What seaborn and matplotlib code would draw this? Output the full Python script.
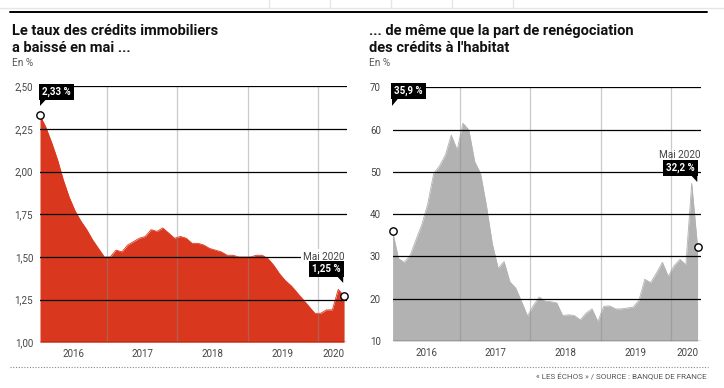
import numpy as np
import pandas as pd
import matplotlib
matplotlib.use("Agg")
import matplotlib.pyplot as plt
from matplotlib.patches import Polygon
from matplotlib.lines import Line2D
import seaborn as sns

# ---------------- data ----------------
months = pd.date_range("2016-01-01", "2020-05-01", freq="MS")
taux = [2.33, 2.26, 2.17, 2.07, 1.95, 1.85, 1.77, 1.71, 1.66, 1.60, 1.55, 1.50,
        1.50, 1.54, 1.53, 1.57, 1.59, 1.61, 1.62, 1.66, 1.65, 1.67, 1.64, 1.61,
        1.62, 1.61, 1.58, 1.58, 1.57, 1.55, 1.54, 1.53, 1.51, 1.51, 1.50, 1.50,
        1.50, 1.51, 1.51, 1.49, 1.45, 1.40, 1.36, 1.33, 1.29, 1.25, 1.21, 1.17,
        1.17, 1.19, 1.19, 1.31, 1.27]
reneg = [35.9, 29.5, 28.6, 30.3, 34.0, 37.6, 42.5, 49.6, 51.4, 54.0, 58.7, 55.2,
         61.5, 59.9, 52.4, 49.6, 42.0, 33.0, 27.2, 28.8, 24.0, 22.5, 19.3, 15.9,
         18.4, 20.4, 19.4, 19.3, 19.0, 16.0, 16.2, 16.0, 15.0, 16.6, 17.6, 14.6,
         18.2, 18.3, 17.6, 17.6, 17.8, 18.0, 19.6, 24.6, 23.8, 26.1, 28.6, 25.3,
         27.8, 29.3, 28.0, 47.3, 32.2]
years = ["2016", "2017", "2018", "2019", "2020"]
left_yticks = [1.00, 1.25, 1.50, 1.75, 2.00, 2.25, 2.50]
right_yticks = [10, 20, 30, 40, 50, 60, 70]
label_first_left, label_last_left = "2,33 %", "1,25 %"
label_first_right, label_last_right = "35,9 %", "32,2 %"

t = np.arange(len(months)) + 0.5          # month index, centred in month
df = pd.DataFrame({"t": t, "taux": taux, "reneg": reneg})
year_starts = [12, 24, 36, 48]
year_label_pos = [6.25, 18, 30, 42, 50.75]

# ---------------- style ----------------
sns.set_theme(style="white")
plt.rcParams["font.family"] = ["Roboto", "DejaVu Sans"]

W, H = 724, 388
fig = plt.figure(figsize=(W / 100, H / 100), dpi=100)
fig.patch.set_facecolor("white")

def fx(px):
    return px / W

def fy(py):
    return 1 - py / H

# page decorations
fig.add_artist(Line2D([0, 1], [fy(8), fy(8)], color="#e6e6e6", lw=1))
for xs in [269, 330, 391, 452, 513]:
    fig.add_artist(Line2D([fx(xs), fx(xs)], [fy(0), fy(8)], color="#e6e6e6", lw=1))
fig.add_artist(Line2D([fx(10), fx(707)], [fy(12.3), fy(12.3)], color="black", lw=1.4))
fig.add_artist(Line2D([fx(10), fx(708)], [fy(367), fy(367)], color="#888888",
                      lw=0.8, linestyle=(0, (1, 1.5))))
fig.text(fx(707), fy(377), "« LES ÉCHOS » / SOURCE : BANQUE DE FRANCE",
         ha="right", va="center", fontsize=5.8, color="#555555")

RED = "#d9381e"
GREY = "#b2b2b2"


def callout(ax, x, ybox, ytip, text, side):
    """black label box with a small pointer"""
    px, pb = ax.transData.transform((x, ybox))
    _, pt = ax.transData.transform((x, ytip))
    pad = 2.3
    if side == "left":
        ax.annotate(text, xy=(x, ybox), xytext=(pad * 0.72, pad * 0.72 + 0.4),
                    textcoords="offset points", ha="left", va="bottom",
                    fontsize=7, fontweight="bold", color="white", zorder=10,
                    annotation_clip=False,
                    bbox=dict(boxstyle="square,pad=0.3", fc="black", ec="none"))
        tri = [(px, pb + 0.5), (px + 6, pb + 0.5), (px, pt)]
    else:
        ax.annotate(text, xy=(x, ybox), xytext=(-pad * 0.72, pad * 0.72 + 0.4),
                    textcoords="offset points", ha="right", va="bottom",
                    fontsize=7, fontweight="bold", color="white", zorder=10,
                    annotation_clip=False,
                    bbox=dict(boxstyle="square,pad=0.3", fc="black", ec="none"))
        tri = [(px, pb + 0.5), (px - 6, pb + 0.5), (px, pt)]
    fig.add_artist(Polygon(tri, closed=True, fc="black", ec="none",
                           transform=None, zorder=10))


def panel(rect, col, color, yticks, ylab_fmt, ymin, ymax):
    ax = fig.add_axes(rect)
    ax.set_facecolor("white")
    sns.lineplot(data=df, x="t", y=col, ax=ax, color=color, lw=0.6, zorder=2)
    ax.fill_between(df["t"], df[col], ymin, color=color, lw=0, zorder=2)
    ax.set_xlim(0.5, 53.0)
    ax.set_ylim(ymin, ymax)
    for yv in yticks:
        ax.axhline(yv, color="black", lw=0.9, zorder=3, xmin=-0.007)
    for xv in year_starts:
        ax.axvline(xv, color="#8a8a8a", lw=0.9, alpha=0.45, zorder=2.5)
    ax.set_yticks(yticks)
    ax.set_yticklabels([ylab_fmt(v) for v in yticks])
    ax.set_xticks(year_label_pos)
    ax.set_xticklabels(years)
    ax.tick_params(axis="both", length=0, labelsize=7, colors="#444444")
    ax.tick_params(axis="x", pad=5)
    ax.set_xlabel("")
    ax.set_ylabel("")
    for s in ax.spines.values():
        s.set_visible(False)
    return ax


# ---------------- left panel ----------------
axL = panel([fx(40), fy(342.3), fx(347) - fx(40), fy(86.3) - fy(342.3)],
            "taux", RED, left_yticks, lambda v: f"{v:.2f}".replace(".", ","), 1.0, 2.5)
axL.tick_params(axis="y", pad=5)
for lab in axL.get_yticklabels():
    lab.set_horizontalalignment("right")
fig.text(fx(12), fy(31), "Le taux des crédits immobiliers", fontsize=10.5,
         fontweight="bold", color="#111111", va="center", ha="left")
fig.text(fx(12), fy(47.5), "a baissé en mai ...", fontsize=10.5,
         fontweight="bold", color="#111111", va="center", ha="left")
fig.text(fx(12), fy(62.5), "En %", fontsize=7.2, color="#555555", va="center")

axL.scatter([t[0], t[-1]], [taux[0], taux[-1]], s=28, facecolor="white",
            edgecolor="black", linewidth=1.0, zorder=11, clip_on=False)
callout(axL, t[0], 2.42, 2.385, label_first_left, "left")
callout(axL, t[-1] - 0.15, 1.383, 1.348, label_last_left, "right")
axL.text(52.65, 1.50, "Mai 2020", ha="right", va="center", fontsize=7.2,
         color="#444444", zorder=9,
         bbox=dict(boxstyle="square,pad=0.25", fc="white", ec="none"))

# ---------------- right panel ----------------
axR = panel([fx(392.6), fy(341), fx(700.5) - fx(392.6), fy(87.3) - fy(341)],
            "reneg", GREY, right_yticks, lambda v: f"{v:d}", 10, 70)
for lab in axR.get_yticklabels():
    lab.set_horizontalalignment("left")
axR.tick_params(axis="y", pad=16.3)
fig.text(fx(369), fy(31), "... de même que la part de renégociation", fontsize=10.5,
         fontweight="bold", color="#111111", va="center", ha="left")
fig.text(fx(369), fy(47.5), "des crédits à l'habitat", fontsize=10.5,
         fontweight="bold", color="#111111", va="center", ha="left")
fig.text(fx(369), fy(62.5), "En %", fontsize=7.2, color="#555555", va="center")

axR.scatter([t[0], t[-1]], [reneg[0], reneg[-1]], s=28, facecolor="white",
            edgecolor="black", linewidth=1.0, zorder=11, clip_on=False)
callout(axR, t[0] - 0.1, 67.2, 65.6, label_first_right, "left")
callout(axR, t[-1] - 0.05, 49.0, 47.6, label_last_right, "right")
axR.text(53.0, 54.0, "Mai 2020", ha="right", va="center", fontsize=7.2,
         color="#444444", zorder=9)

fig.savefig("out.png", dpi=100, facecolor="white")
